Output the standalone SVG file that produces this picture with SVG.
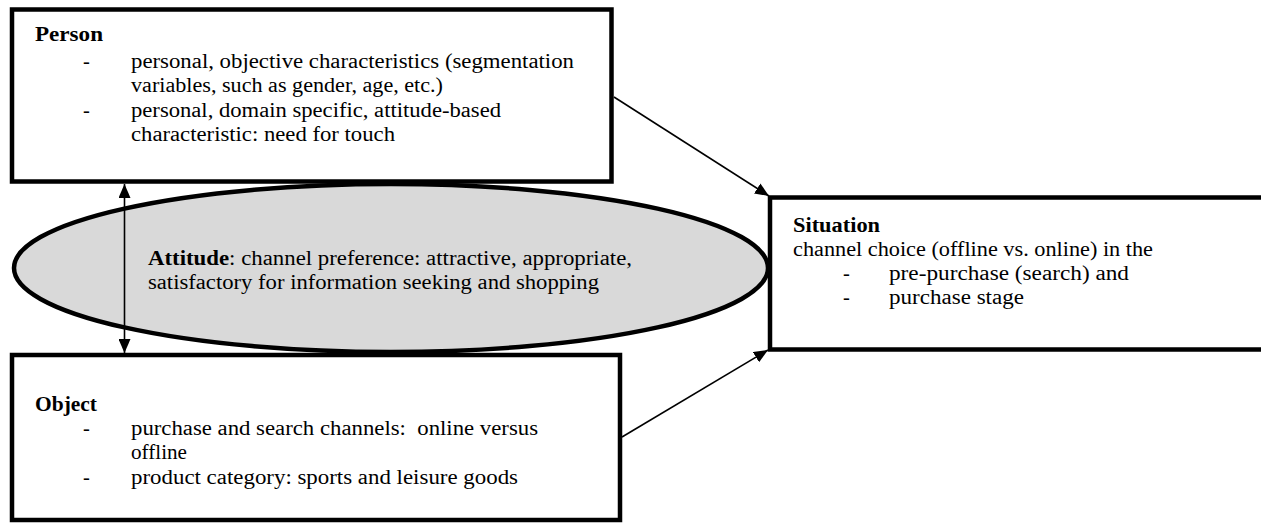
<svg xmlns="http://www.w3.org/2000/svg" width="1261" height="523" viewBox="0 0 1261 523">
<style>
.box{fill:#fff;stroke:#000;stroke-width:4.5}
.ell{fill:#d9d9d9;stroke:#000;stroke-width:4.5}
.t{font-family:"Liberation Serif","Times New Roman",serif;font-size:20.5px;fill:#000}
.b{font-weight:bold}
.con{stroke:#000;stroke-width:1.6;fill:none}
</style>
<defs>
<marker id="ah" viewBox="0 0 14 12" refX="14" refY="6" markerWidth="14" markerHeight="12" markerUnits="userSpaceOnUse" orient="auto-start-reverse">
<path d="M0,0 L14,6 L0,12 z" fill="#000"/>
</marker>
</defs>
<rect width="1261" height="523" fill="#fff"/>
<g id="situation">
<rect class="box" x="770" y="197.5" width="500" height="152"/>
<text class="t b" x="793" y="232" textLength="87" lengthAdjust="spacingAndGlyphs">Situation</text>
<text class="t" x="793" y="256" textLength="360" lengthAdjust="spacingAndGlyphs">channel choice (offline vs. online) in the</text>
<text class="t" x="843" y="280">-</text>
<text class="t" x="889" y="280" textLength="240" lengthAdjust="spacingAndGlyphs">pre-purchase (search) and</text>
<text class="t" x="843" y="304">-</text>
<text class="t" x="889" y="304" textLength="135" lengthAdjust="spacingAndGlyphs">purchase stage</text>
</g>
<g id="person">
<rect class="box" x="12" y="9.5" width="599.5" height="172"/>
<text class="t b" x="35" y="41" textLength="68" lengthAdjust="spacingAndGlyphs">Person</text>
<text class="t" x="83" y="68">-</text>
<text class="t" x="131" y="68" textLength="443" lengthAdjust="spacingAndGlyphs">personal, objective characteristics (segmentation</text>
<text class="t" x="131" y="92" textLength="312" lengthAdjust="spacingAndGlyphs">variables, such as gender, age, etc.)</text>
<text class="t" x="83" y="117">-</text>
<text class="t" x="131" y="117" textLength="370" lengthAdjust="spacingAndGlyphs">personal, domain specific, attitude-based</text>
<text class="t" x="131" y="141" textLength="264" lengthAdjust="spacingAndGlyphs">characteristic: need for touch</text>
</g>
<g id="object">
<rect class="box" x="12" y="355" width="608" height="165"/>
<text class="t b" x="35" y="411" textLength="62" lengthAdjust="spacingAndGlyphs">Object</text>
<text class="t" x="83" y="435">-</text>
<text class="t" x="131" y="435" textLength="407" lengthAdjust="spacingAndGlyphs" xml:space="preserve">purchase and search channels:  online versus</text>
<text class="t" x="131" y="459" textLength="56" lengthAdjust="spacingAndGlyphs">offline</text>
<text class="t" x="83" y="484">-</text>
<text class="t" x="131" y="484" textLength="387" lengthAdjust="spacingAndGlyphs">product category: sports and leisure goods</text>
</g>
<g id="attitude">
<ellipse class="ell" cx="391" cy="268" rx="377" ry="84"/>
<text class="t" x="148" y="265" textLength="484" lengthAdjust="spacingAndGlyphs"><tspan class="b">Attitude</tspan>: channel preference: attractive, appropriate,</text>
<text class="t" x="148" y="289" textLength="451" lengthAdjust="spacingAndGlyphs">satisfactory for information seeking and shopping</text>
</g>
<g id="connectors">
<line class="con" x1="614" y1="97" x2="769" y2="196" marker-end="url(#ah)"/>
<line class="con" x1="622" y1="437" x2="768" y2="350" marker-end="url(#ah)"/>
<line class="con" x1="124.5" y1="184" x2="124.5" y2="353" marker-start="url(#ah)" marker-end="url(#ah)"/>
</g>
</svg>
